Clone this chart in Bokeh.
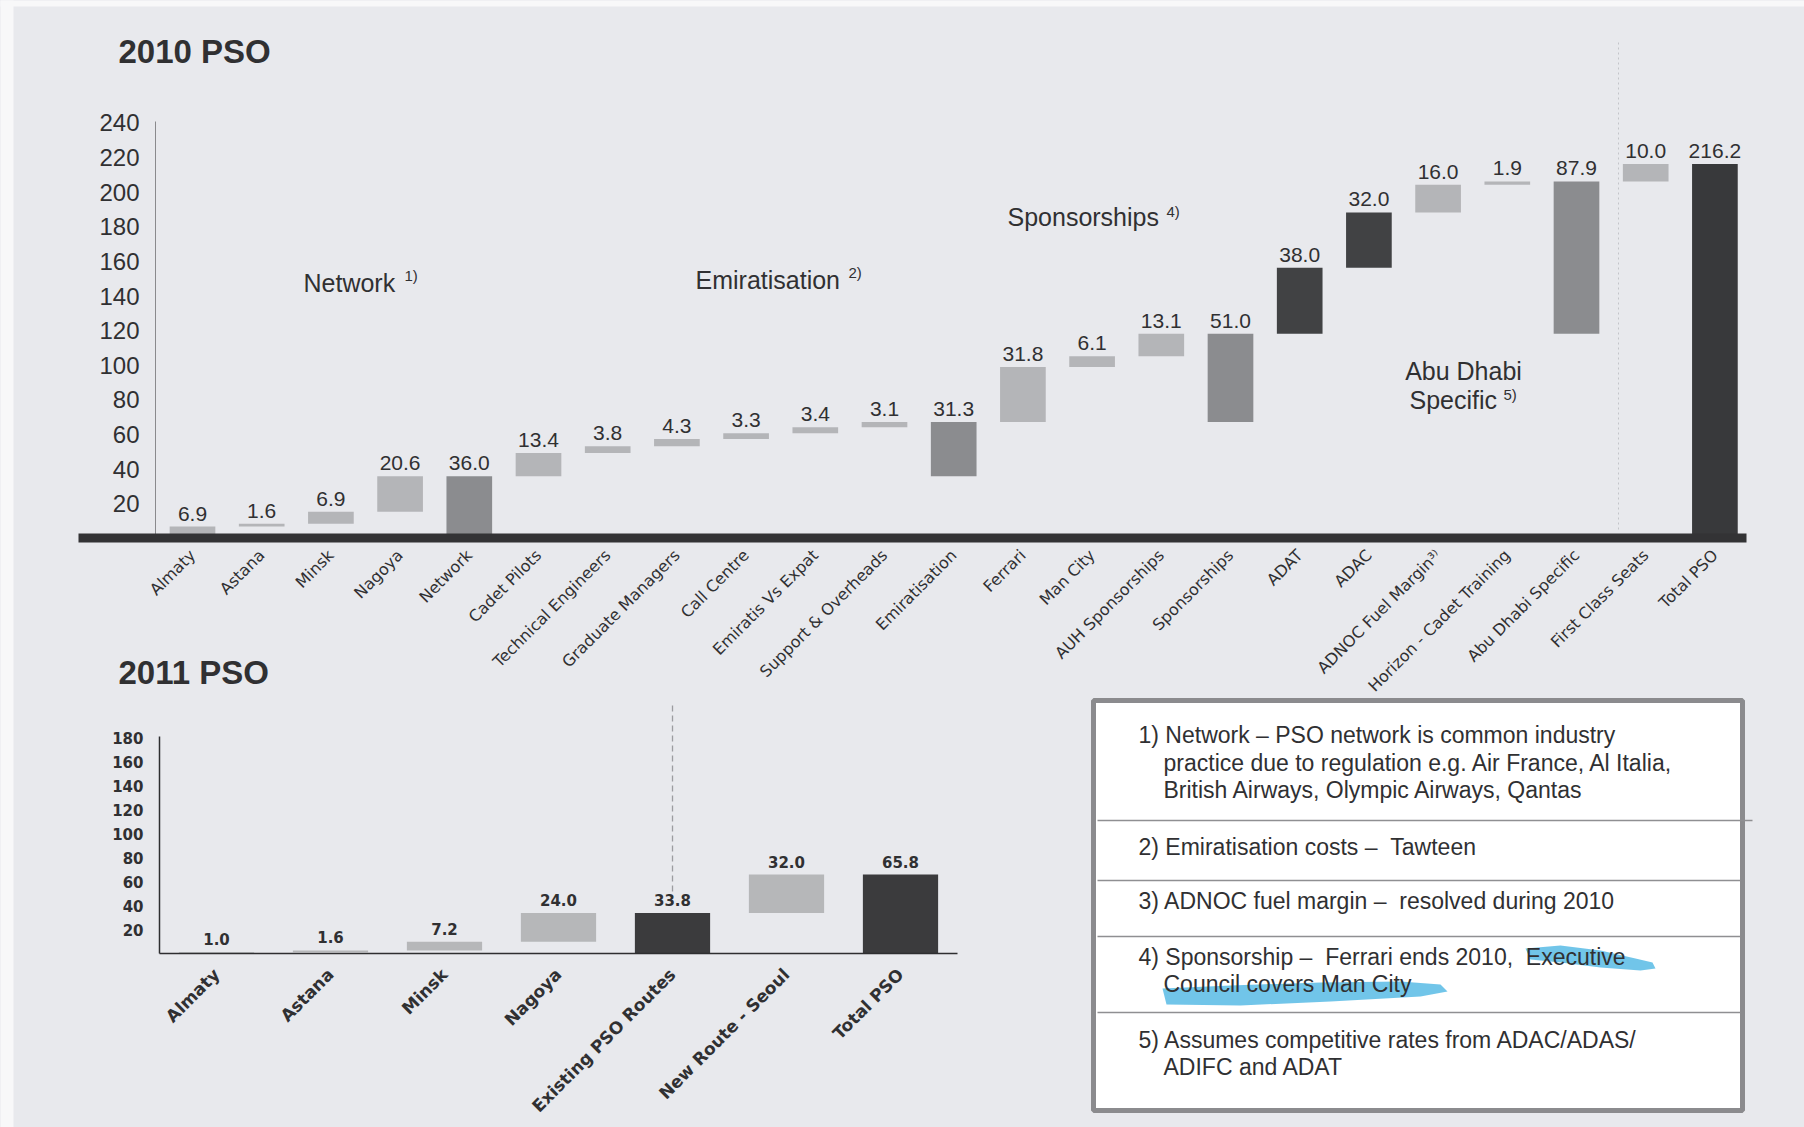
from math import pi

from bokeh.core.properties import value
from bokeh.embed import file_html
from bokeh.layouts import column, row
from bokeh.models import ColumnDataSource, FactorRange, FixedTicker, Range1d
from bokeh.plotting import figure
from bokeh.resources import INLINE

# ---------------------------------------------------------------- data
cats_2010 = ["Almaty", "Astana", "Minsk", "Nagoya", "Network", "Cadet Pilots",
             "Technical Engineers", "Graduate Managers", "Call Centre",
             "Emiratis Vs Expat", "Support & Overheads", "Emiratisation",
             "Ferrari", "Man City", "AUH Sponsorships", "Sponsorships", "ADAT",
             "ADAC", "ADNOC Fuel Margin\u00b3\u207e", "Horizon - Cadet Training",
             "Abu Dhabi Specific", "First Class Seats", "Total PSO"]
vals_2010 = [6.9, 1.6, 6.9, 20.6, 36.0, 13.4, 3.8, 4.3, 3.3, 3.4, 3.1, 31.3,
             31.8, 6.1, 13.1, 51.0, 38.0, 32.0, 16.0, 1.9, 87.9, 10.0, 216.2]
kind_2010 = ["step", "step", "step", "step", "subtotal", "step", "step", "step",
             "step", "step", "step", "subtotal", "step", "step", "step",
             "subtotal", "major", "major", "step", "step", "subtotal", "step",
             "total"]
yticks_2010 = [20, 40, 60, 80, 100, 120, 140, 160, 180, 200, 220, 240]

cats_2011 = ["Almaty", "Astana", "Minsk", "Nagoya", "Existing PSO Routes",
             "New Route - Seoul", "Total PSO"]
vals_2011 = [1.0, 1.6, 7.2, 24.0, 33.8, 32.0, 65.8]
kind_2011 = ["step", "step", "step", "step", "subtotal", "step", "total"]
yticks_2011 = [20, 40, 60, 80, 100, 120, 140, 160, 180]

titles = ["2010 PSO", "2011 PSO"]
groups_2010 = ["Network", "Emiratisation", "Sponsorships", "Abu Dhabi", "Specific"]
group_marks = ["1)", "2)", "4)", "", "5)"]

NB = "\u00a0"
notes = ["1) Network \u2013 PSO network is common industry",
         "practice due to regulation e.g. Air France, Al Italia,",
         "British Airways, Olympic Airways, Qantas",
         f"2) Emiratisation costs \u2013 {NB}Tawteen",
         f"3) ADNOC fuel margin \u2013 {NB}resolved during 2010",
         f"4) Sponsorship \u2013 {NB}Ferrari ends 2010, {NB}Executive",
         "Council covers Man City",
         "5) Assumes competitive rates from ADAC/ADAS/",
         "ADIFC and ADAT"]

# ---------------------------------------------------------------- styling
BG = "#e8e9ed"
INK = "#303032"
PALETTE_2010 = {"step": "#b4b5b8", "subtotal": "#8b8c8f", "major": "#414244",
                "total": "#38393b"}
PALETTE_2011 = {"step": "#b6b7b9", "subtotal": "#3b3b3d", "total": "#3b3b3d"}

W, H = 1804, 1127
H_TOP = 705
H_BOT = H - H_TOP


def waterfall(vals, kinds):
    """Floating bar extents: steps stack, subtotals span their group, totals start at 0."""
    bottoms, tops = [], []
    run = start = 0.0
    for v, k in zip(vals, kinds):
        if k == "total":
            b = 0.0
        elif k == "subtotal":
            b = start
        else:
            b = run
        t = b + v
        if k == "subtotal":
            start = run = t
        elif k != "total":
            run = t
        bottoms.append(b)
        tops.append(t)
    return bottoms, tops


# ================================================================ 2010 chart
FL, FR, FT, FB = 155, 1746, 121, 540     # frame edges on the page
X0, DX = 192.0, 69.2                      # first category centre, spacing
PXU = 1.74                                # pixels per unit of value


def tx(px):
    return (px - X0) / DX


def ty(py):
    return (FB - py) / PXU


top = figure(width=W, height=H_TOP, output_backend="svg", toolbar_location=None,
             title=None,
             x_range=Range1d(tx(FL), tx(FR)), y_range=Range1d(0, ty(FT)),
             min_border_left=FL, min_border_right=W - FR,
             min_border_top=FT, min_border_bottom=H_TOP - FB,
             background_fill_color=BG, border_fill_color=BG,
             outline_line_color=None)
top.grid.visible = False

b10, t10 = waterfall(vals_2010, kind_2010)
src10 = ColumnDataSource(dict(
    x=list(range(len(cats_2010))), bottom=b10, top=t10,
    color=[PALETTE_2010[k] for k in kind_2010],
    label=[f"{v:.1f}" for v in vals_2010]))

top.vbar(x="x", width=0.66, bottom="bottom", top="top", fill_color="color",
         line_color=None, source=src10)
top.text(x="x", y="top", text="label", source=src10, text_align="center",
         text_baseline="bottom", y_offset=-6, text_color=INK,
         text_font=value("Liberation Sans"), text_font_size="21px")

# group captions
g_x = [303, 695, 1007, 1463, 1409]
g_y = [283, 280, 217, 372, 401]
g_align = ["left", "left", "left", "center", "left"]
top.text(x=[tx(v) for v in g_x], y=[ty(v) for v in g_y], text=groups_2010,
         text_align=g_align, text_baseline="middle", text_color=INK,
         text_font=value("Liberation Sans"), text_font_size="25px")
m_x = [404, 848, 1166, 1463, 1503]
m_y = [276, 273, 211, 372, 395]
top.text(x=[tx(v) for v in m_x], y=[ty(v) for v in m_y], text=group_marks,
         text_align="left", text_baseline="middle", text_color=INK,
         text_font=value("Liberation Sans"), text_font_size="15px")

xa = top.xaxis[0]
xa.ticker = FixedTicker(ticks=list(range(len(cats_2010))))
xa.major_label_overrides = {i: c for i, c in enumerate(cats_2010)}
xa.major_label_orientation = pi / 4
xa.axis_line_color = None
xa.major_tick_line_color = None
xa.minor_tick_line_color = None
xa.major_label_standoff = 8
xa.major_label_text_font = "DejaVu Sans"
xa.major_label_text_font_size = "16px"
xa.major_label_text_color = INK

ya = top.yaxis[0]
ya.ticker = FixedTicker(ticks=yticks_2010)
ya.axis_line_color = "#8a8a8d"
ya.axis_line_width = 1
ya.major_tick_line_color = None
ya.minor_tick_line_color = None
ya.major_label_standoff = 10
ya.major_label_text_font = "Liberation Sans"
ya.major_label_text_font_size = "24px"
ya.major_label_text_color = INK

# ================================================================ 2011 chart
BL, BR, BT, BB = 159, 957, 736, 953
PXU2 = 1.2

bot = figure(width=W, height=H_BOT, output_backend="svg",
             toolbar_location=None, title=None,
             x_range=FactorRange(*cats_2011, range_padding=0),
             y_range=Range1d(0, (BB - BT) / PXU2),
             min_border_left=BL, min_border_right=W - BR,
             min_border_top=BT - H_TOP, min_border_bottom=H - BB,
             background_fill_color=BG, border_fill_color=BG,
             outline_line_color=None)
bot.grid.visible = False

b11, t11 = waterfall(vals_2011, kind_2011)
src11 = ColumnDataSource(dict(
    x=cats_2011, bottom=b11, top=t11,
    color=[PALETTE_2011[k] for k in kind_2011],
    label=[f"{v:.1f}" for v in vals_2011]))

bot.vbar(x="x", width=0.66, bottom="bottom", top="top", fill_color="color",
         line_color=None, source=src11)
bot.text(x="x", y="top", text="label", source=src11, text_align="center",
         text_baseline="bottom", y_offset=-7, text_color=INK,
         text_font=value("DejaVu Sans"), text_font_style="bold",
         text_font_size="15px")

bxa = bot.xaxis[0]
bxa.major_label_orientation = pi / 4
bxa.axis_line_color = "#2e2e30"
bxa.axis_line_width = 1.5
bxa.major_tick_line_color = None
bxa.minor_tick_line_color = None
bxa.major_label_standoff = 12
bxa.major_label_text_font = "DejaVu Sans"
bxa.major_label_text_font_style = "bold"
bxa.major_label_text_font_size = "17px"
bxa.major_label_text_color = INK

bya = bot.yaxis[0]
bya.ticker = FixedTicker(ticks=yticks_2011)
bya.axis_line_color = "#2e2e30"
bya.axis_line_width = 1.5
bya.major_tick_line_color = None
bya.minor_tick_line_color = None
bya.major_label_standoff = 10
bya.major_label_text_font = "DejaVu Sans"
bya.major_label_text_font_style = "bold"
bya.major_label_text_font_size = "15px"
bya.major_label_text_color = INK

# ================================================================ page layer
# Transparent full-page layer for titles, the base rule, dividers and notes.
ov = figure(width=W, height=H, output_backend="svg", toolbar_location=None,
            title=None, x_range=Range1d(0, W), y_range=Range1d(H, 0),
            x_axis_location=None, y_axis_location=None, min_border=0,
            background_fill_color=None, border_fill_color=None,
            outline_line_color=None)
ov.grid.visible = False

# paper edge
ov.quad(left=[-5, -5], right=[13, W + 5], top=[-5, -5], bottom=[H + 5, 6],
        fill_color="#f8f8f9", line_color=None)

ov.text(x=[118, 118], y=[51, 672], text=titles, text_align="left",
        text_baseline="middle", text_color=INK,
        text_font=value("Liberation Sans"), text_font_style="bold",
        text_font_size="33px")

# heavy base rule under the 2010 bars
ov.quad(left=78, right=1746, top=533, bottom=542, fill_color="#333335",
        line_color=None)

# faint dotted divider before the last columns
ov.segment(x0=1618, x1=1618, y0=42, y1=532, line_color="#c3c4c9",
           line_width=1, line_dash="2 3")

# dashed divider above the existing-routes subtotal
div_px = BL + (cats_2011.index("Existing PSO Routes") + 0.5) * (BR - BL) / len(cats_2011)
ov.segment(x0=div_px, x1=div_px, y0=705, y1=891, line_color="#9c9ca0",
           line_width=1.3, line_dash="6 4")

# notes box
ov.quad(left=1093, right=1742, top=700, bottom=1110, fill_color="white",
        line_color="#8b8b8e", line_width=5)
ov.segment(x0=[1097, 1097, 1097, 1097], x1=[1752, 1740, 1740, 1740],
           y0=[820, 880, 936, 1012], y1=[820, 880, 936, 1012],
           line_color="#8f8f92", line_width=1.5)

# marker pen strokes
ov.patches(
    xs=[[1525, 1560, 1600, 1635, 1652, 1655, 1640, 1600, 1560, 1530],
        [1162, 1230, 1320, 1400, 1440, 1447, 1420, 1330, 1240, 1166]],
    ys=[[948, 945, 950, 958, 962, 968, 970, 967, 962, 959],
        [988, 985, 982, 981, 984, 991, 996, 1001, 1005, 1004]],
    fill_color="#4db7e3", fill_alpha=0.8, line_color=None)

n_x = [1138, 1163, 1163, 1138, 1138, 1138, 1163, 1138, 1163]
n_y = [734, 762, 789, 846, 900, 956, 983, 1039, 1066]
ov.text(x=n_x, y=n_y, text=notes, text_align="left", text_baseline="middle",
        text_color=INK, text_font=value("Liberation Sans"),
        text_font_size="23px")

page = column(top, row(bot),
              row(ov, styles={"margin-top": f"-{H}px"}),
              styles={"background-color": BG})
open("out.html", "w").write(file_html(page, INLINE, "PSO"))
